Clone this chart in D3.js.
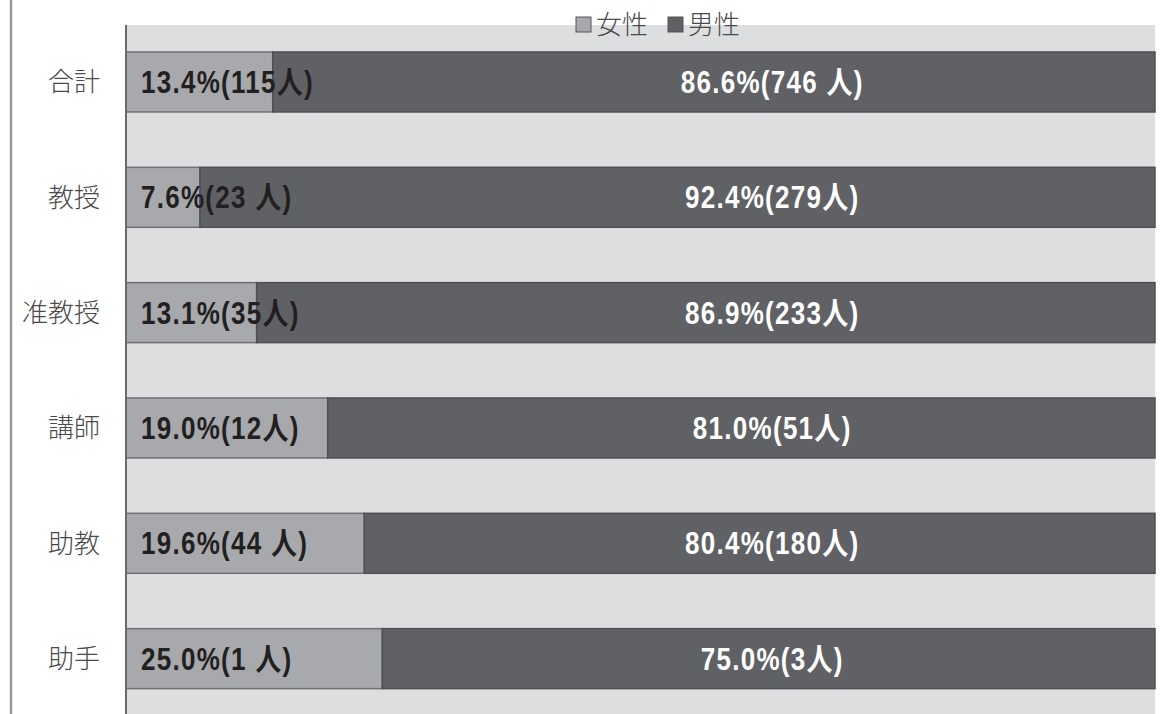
<!DOCTYPE html>
<html>
<head>
<meta charset="utf-8">
<script src="https://cdn.jsdelivr.net/npm/d3@7"></script>
<style>
  body { margin: 0; background: #fff; }
  svg { display: block; }
  .cat { font-family: "Noto Sans CJK JP", sans-serif; font-size: 26px; fill: #4a4a4a; font-weight: 300; }
  .lbl { font-family: "Liberation Sans", Arial, "Noto Sans CJK JP", sans-serif; font-size: 31px; font-weight: bold; letter-spacing: 1.5px; }
  .leg { font-family: "Noto Sans CJK JP", sans-serif; font-size: 26px; fill: #4a4a4a; font-weight: 300; }
</style>
</head>
<body>
<div id="chart"></div>
<script>
// Categories (top to bottom)
var categories = ["合計", "教授", "准教授", "講師", "助教", "助手"];

// Female share as drawn by the bar lengths
var femaleShare = [0.1426, 0.0719, 0.1270, 0.1960, 0.2316, 0.2491];

// Label texts
var femaleLabels = ["13.4%(115人)", "7.6%(23 人)", "13.1%(35人)", "19.0%(12人)", "19.6%(44 人)", "25.0%(1 人)"];
var maleLabels = ["86.6%(746 人)", "92.4%(279人)", "86.9%(233人)", "81.0%(51人)", "80.4%(180人)", "75.0%(3人)"];

var seriesNames = ["女性", "男性"];
var seriesColors = ["#a7a9ac", "#606165"];

// SVG size
var svgWidth = 1160;
var svgHeight = 714;

var margin = { top: 25, right: 5, bottom: -3, left: 126 };
var width = svgWidth - margin.left - margin.right;
var height = svgHeight - margin.top - margin.bottom;

var svg = d3.select("#chart")
  .append("svg")
  .attr("width", svgWidth)
  .attr("height", svgHeight);

// left frame line
svg.append("line")
  .attr("x1", 11).attr("x2", 11)
  .attr("y1", 0).attr("y2", svgHeight)
  .attr("stroke", "#9a9a9a")
  .attr("stroke-width", 2.5);

var chartGroup = svg.append("g")
  .attr("transform", `translate(${margin.left}, ${margin.top})`);

// plot background
chartGroup.append("rect")
  .attr("x", 0).attr("y", 0)
  .attr("width", width).attr("height", height)
  .attr("fill", "#dddee0");

var xScale = d3.scaleLinear()
  .domain([0, 1])
  .range([0, width]);

var yScale = d3.scaleBand()
  .domain(categories)
  .range([-0.7, height - 0.7])
  .paddingInner(0.48)
  .paddingOuter(0.24);

// stack data
var rows = categories.map(function(c, i) {
  return { cat: c, female: femaleShare[i], male: 1 - femaleShare[i], fl: femaleLabels[i], ml: maleLabels[i] };
});

var stack = d3.stack().keys(["female", "male"]);
var series = stack(rows);

chartGroup.selectAll(".series")
  .data(series)
  .enter()
  .append("g")
  .attr("fill", (d, i) => seriesColors[i])
  .attr("stroke", (d, i) => i === 0 ? "#6f7073" : "#4e4f53")
  .attr("stroke-width", 1.5)
  .selectAll("rect")
  .data(d => d)
  .enter()
  .append("rect")
  .attr("x", d => xScale(d[0]))
  .attr("y", d => yScale(d.data.cat))
  .attr("width", d => xScale(d[1]) - xScale(d[0]))
  .attr("height", yScale.bandwidth());

// y axis
var leftAxis = d3.axisLeft(yScale).tickSize(0).tickPadding(26);
var yAxisG = chartGroup.append("g").call(leftAxis);
yAxisG.select(".domain")
  .attr("d", `M0,0V${height}`)
  .attr("stroke", "#6a6a6a")
  .attr("stroke-width", 2);
yAxisG.selectAll("text")
  .attr("class", "cat")
  .attr("dy", "0.36em");

// condensed look: squeeze labels horizontally
var squeeze = 0.84;

// female labels
chartGroup.selectAll(".flab")
  .data(rows)
  .enter()
  .append("text")
  .attr("class", "lbl")
  .attr("transform", d => `translate(${xScale(0) + 15}, ${yScale(d.cat) + yScale.bandwidth() / 2}) scale(${squeeze}, 1)`)
  .attr("dy", "0.36em")
  .attr("fill", "#231f20")
  .text(d => d.fl);

// male labels
chartGroup.selectAll(".mlab")
  .data(rows)
  .enter()
  .append("text")
  .attr("class", "lbl")
  .attr("text-anchor", "middle")
  .attr("transform", d => `translate(${xScale(0.628)}, ${yScale(d.cat) + yScale.bandwidth() / 2}) scale(${squeeze}, 1)`)
  .attr("dy", "0.36em")
  .attr("fill", "#ffffff")
  .text(d => d.ml);

// legend
var legend = svg.append("g").attr("transform", "translate(576, 17)");
var legItems = legend.selectAll("g")
  .data(seriesNames)
  .enter()
  .append("g")
  .attr("transform", (d, i) => `translate(${i * 92}, 0)`);
legItems.append("rect")
  .attr("width", 15).attr("height", 15)
  .attr("fill", (d, i) => seriesColors[i])
  .attr("stroke", "#555")
  .attr("stroke-width", 1);
legItems.append("text")
  .attr("class", "leg")
  .attr("x", 20)
  .attr("y", 7.5)
  .attr("dy", "0.36em")
  .text(d => d);
</script>
</body>
</html>
